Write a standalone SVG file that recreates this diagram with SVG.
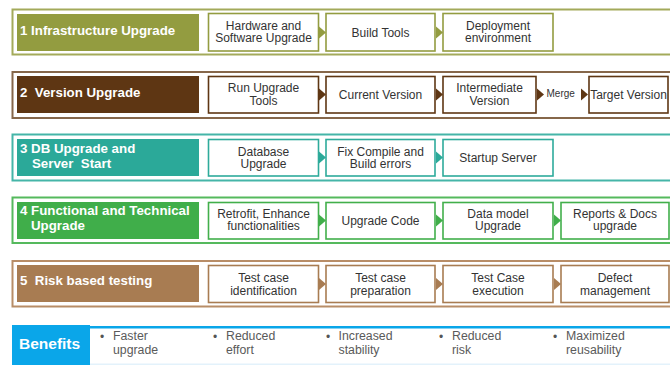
<svg xmlns="http://www.w3.org/2000/svg" width="670" height="365" viewBox="0 0 670 365">
<style>
  text { font-family: "Liberation Sans", Arial, Helvetica, sans-serif; }
  .lbl { fill: #ffffff; font-weight: bold; font-size: 13.3px; }
  .st { fill: #333333; font-size: 12px; text-anchor: middle; }
  .box { fill: #ffffff; stroke-width: 1.6; }
  .frame { fill: none; stroke-width: 2; }
  .ben { fill: #5a5a5a; font-size: 12.3px; }
  .bul { fill: #555555; font-size: 12px; }
  .r1 { stroke: #939C40; } .f1 { fill: #939C40; }
  .r2 { stroke: #5E3613; } .f2 { fill: #5E3613; }
  .r3 { stroke: #2EAB9B; } .f3 { fill: #2BA999; }
  .r4 { stroke: #42AF4B; } .f4 { fill: #40AE4A; }
  .r5 { stroke: #A87C52; } .f5 { fill: #A87C52; }
</style>

<!-- Row 1 -->
<g id="row1">
  <rect class="frame" x="12.5" y="9.5" width="680" height="45" stroke="#A3AA5A"/>
  <g id="n1-label"><rect class="f1" x="17" y="14" width="182" height="37"/><text class="lbl" x="20" y="35">1 Infrastructure Upgrade</text></g>
  <g id="n1-a"><rect class="box r1" x="208.5" y="13.5" width="110" height="37.5"/><text class="st" x="263.5" y="29.5">Hardware and</text><text class="st" x="263.5" y="42">Software Upgrade</text></g>
  <g id="n1-b"><rect class="box r1" x="326" y="13.5" width="109" height="37.5"/><text class="st" x="380.5" y="36.5">Build Tools</text></g>
  <g id="n1-c"><rect class="box r1" x="443" y="13.5" width="110" height="37.5"/><text class="st" x="498" y="29.5">Deployment</text><text class="st" x="498" y="42">environment</text></g>
</g>

<!-- Row 2 -->
<g id="row2">
  <rect class="frame" x="12.5" y="72" width="680" height="46" stroke="#86674A"/>
  <g id="n2-label"><rect class="f2" x="17" y="76" width="182" height="37"/><text class="lbl" x="20" y="97" xml:space="preserve">2  Version Upgrade</text></g>
  <g id="n2-a"><rect class="box r2" x="208.5" y="76.5" width="110" height="36.5"/><text class="st" x="263.5" y="91.5">Run Upgrade</text><text class="st" x="263.5" y="105">Tools</text></g>
  <g id="n2-b"><rect class="box r2" x="326" y="76.5" width="109" height="36.5"/><text class="st" x="380.5" y="99">Current Version</text></g>
  <g id="n2-c"><rect class="box r2" x="443" y="76.5" width="93" height="36.5"/><text class="st" x="489.5" y="91.5">Intermediate</text><text class="st" x="489.5" y="105">Version</text></g>
  <g id="n2-d"><rect class="box r2" x="589" y="76.5" width="79" height="36.5"/><text class="st" x="628.5" y="99">Target Version</text></g>
</g>

<!-- Row 3 -->
<g id="row3">
  <rect class="frame" x="12.5" y="134.5" width="680" height="46" stroke="#45B5A8"/>
  <g id="n3-label"><rect class="f3" x="17" y="139" width="182" height="37"/><text class="lbl" x="20" y="153">3 DB Upgrade and</text><text class="lbl" x="32" y="168" xml:space="preserve">Server  Start</text></g>
  <g id="n3-a"><rect class="box r3" x="208.5" y="139.5" width="110" height="36.5"/><text class="st" x="263.5" y="155.5">Database</text><text class="st" x="263.5" y="168">Upgrade</text></g>
  <g id="n3-b"><rect class="box r3" x="326" y="139.5" width="109" height="36.5"/><text class="st" x="380.5" y="155.5">Fix Compile and</text><text class="st" x="380.5" y="168">Build errors</text></g>
  <g id="n3-c"><rect class="box r3" x="443" y="139.5" width="110" height="36.5"/><text class="st" x="498" y="162">Startup Server</text></g>
</g>

<!-- Row 4 -->
<g id="row4">
  <rect class="frame" x="12.5" y="197.5" width="680" height="45.5" stroke="#55B95D"/>
  <g id="n4-label"><rect class="f4" x="17" y="202" width="182" height="37"/><text class="lbl" x="20" y="215">4 Functional and Technical</text><text class="lbl" x="31" y="230">Upgrade</text></g>
  <g id="n4-a"><rect class="box r4" x="208.5" y="202.5" width="110" height="36.5"/><text class="st" x="263.5" y="217.5">Retrofit, Enhance</text><text class="st" x="263.5" y="230">functionalities</text></g>
  <g id="n4-b"><rect class="box r4" x="326" y="202.5" width="109" height="36.5"/><text class="st" x="380.5" y="225">Upgrade Code</text></g>
  <g id="n4-c"><rect class="box r4" x="443" y="202.5" width="110" height="36.5"/><text class="st" x="498" y="217.5">Data model</text><text class="st" x="498" y="230">Upgrade</text></g>
  <g id="n4-d"><rect class="box r4" x="561" y="202.5" width="108" height="36.5"/><text class="st" x="615" y="217.5">Reports &amp; Docs</text><text class="st" x="615" y="230">upgrade</text></g>
</g>

<!-- Row 5 -->
<g id="row5">
  <rect class="frame" x="12.5" y="261" width="680" height="45.5" stroke="#B88D67"/>
  <g id="n5-label"><rect class="f5" x="17" y="265" width="182" height="37"/><text class="lbl" x="20" y="285" xml:space="preserve">5  Risk based testing</text></g>
  <g id="n5-a"><rect class="box r5" x="208.5" y="265.5" width="110" height="37"/><text class="st" x="263.5" y="281.5">Test case</text><text class="st" x="263.5" y="294.5">identification</text></g>
  <g id="n5-b"><rect class="box r5" x="326" y="265.5" width="109" height="37"/><text class="st" x="380.5" y="281.5">Test case</text><text class="st" x="380.5" y="294.5">preparation</text></g>
  <g id="n5-c"><rect class="box r5" x="443" y="265.5" width="110" height="37"/><text class="st" x="498" y="281.5">Test Case</text><text class="st" x="498" y="294.5">execution</text></g>
  <g id="n5-d"><rect class="box r5" x="561" y="265.5" width="108" height="37"/><text class="st" x="615" y="281.5">Defect</text><text class="st" x="615" y="294.5">management</text></g>
</g>

<!-- Connectors -->
<g id="connectors">
  <polygon class="f1" points="319,26.5 326,32.5 319,38.5"/>
  <polygon class="f1" points="436,26.5 443,32.5 436,38.5"/>
  <polygon class="f2" points="319,88.5 326,94.5 319,100.5"/>
  <polygon class="f2" points="436,88.5 443,94.5 436,100.5"/>
  <polygon class="f2" points="537,88.5 544,94.5 537,100.5"/>
  <text x="546.5" y="97" style="font-size:10px;fill:#333333">Merge</text>
  <polygon class="f2" points="581,88.5 588,94.5 581,100.5"/>
  <polygon class="f3" points="319,151.5 326,157.5 319,163.5"/>
  <polygon class="f3" points="436,151.5 443,157.5 436,163.5"/>
  <polygon class="f4" points="319,214.5 326,220.5 319,226.5"/>
  <polygon class="f4" points="436,214.5 443,220.5 436,226.5"/>
  <polygon class="f4" points="554,214.5 561,220.5 554,226.5"/>
  <polygon class="f5" points="319,278 326,284 319,290"/>
  <polygon class="f5" points="436,278 443,284 436,290"/>
  <polygon class="f5" points="554,278 561,284 554,290"/>
</g>

<!-- Benefits -->
<g id="benefits">
  <rect x="12" y="325" width="78" height="40" fill="#0AA6E9"/>
  <rect x="90" y="326" width="580" height="2.5" fill="#0AA6E9"/>
  <rect x="90" y="363.5" width="580" height="1.5" fill="#E3F2FB"/>
  <text x="19" y="348.5" style="font-size:15.5px;font-weight:bold;fill:#ffffff">Benefits</text>
  <g id="b1"><text class="bul" x="100" y="341">•</text><text class="ben" x="113" y="340">Faster</text><text class="ben" x="113" y="354">upgrade</text></g>
  <g id="b2"><text class="bul" x="213" y="341">•</text><text class="ben" x="226" y="340">Reduced</text><text class="ben" x="226" y="354">effort</text></g>
  <g id="b3"><text class="bul" x="326" y="341">•</text><text class="ben" x="338.5" y="340">Increased</text><text class="ben" x="338.5" y="354">stability</text></g>
  <g id="b4"><text class="bul" x="439" y="341">•</text><text class="ben" x="452" y="340">Reduced</text><text class="ben" x="452" y="354">risk</text></g>
  <g id="b5"><text class="bul" x="553" y="341">•</text><text class="ben" x="566" y="340">Maximized</text><text class="ben" x="566" y="354">reusability</text></g>
</g>
</svg>
